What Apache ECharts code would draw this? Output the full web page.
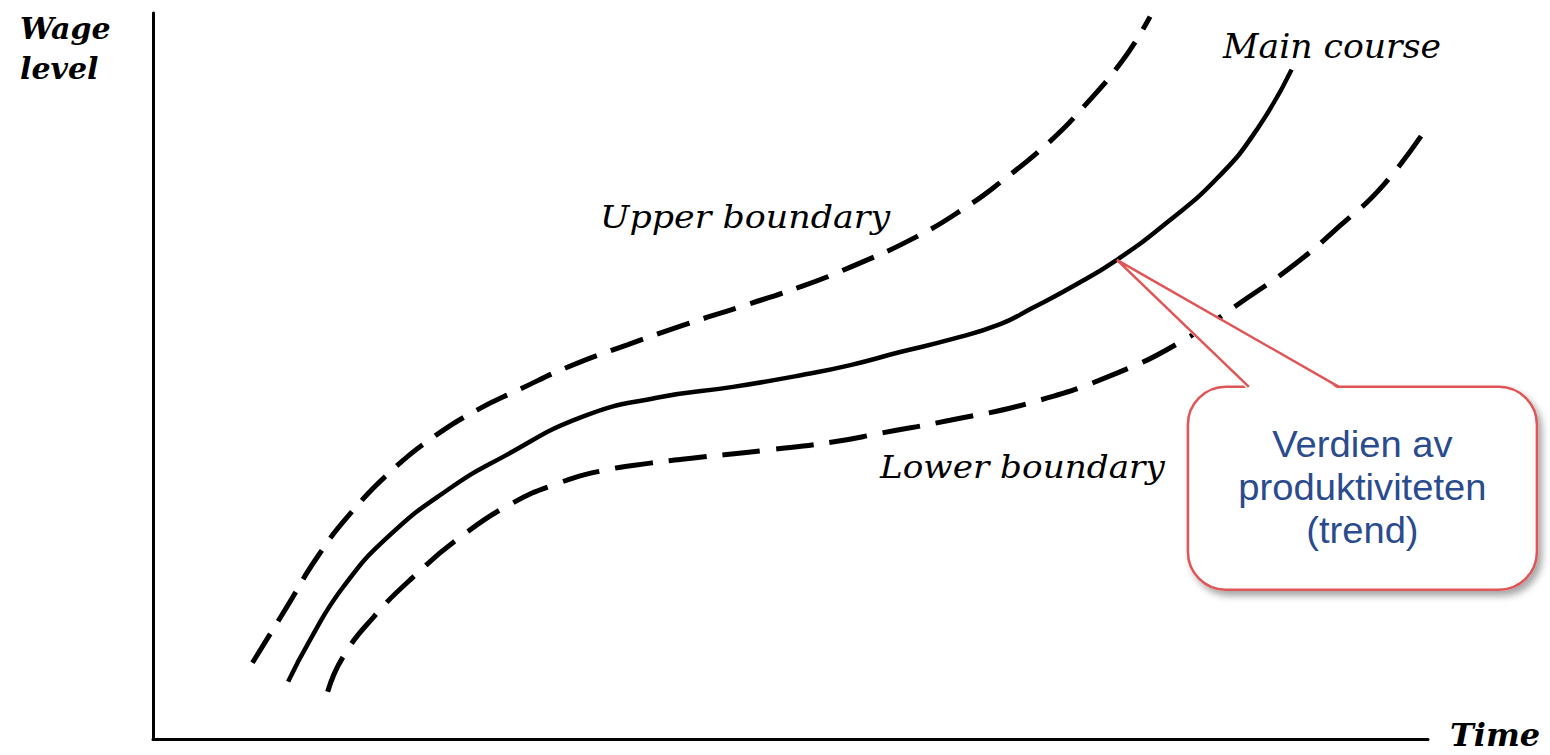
<!DOCTYPE html>
<html>
<head>
<meta charset="utf-8">
<title>Wage level</title>
<script src="https://cdn.jsdelivr.net/npm/echarts@6/dist/echarts.min.js"></script>
<style>
  html, body {margin: 0; padding: 0; background: #fff;}
  #chart {width: 1550px; height: 755px;}
</style>
</head>
<body>
<div id="chart"></div>
<script>
// main course (solid)
let mainTime = [10.6, 12.3, 14.9, 18.4, 23.1, 27.6, 33.7, 39.5, 45.5, 50.8, 54.7, 58.6, 62.5, 66.4, 69.0, 72.3, 75.6, 79.5, 83.5, 86.6, 89.3];
let mainWage = [7.9, 13.6, 20.9, 27.8, 34.3, 39.0, 44.4, 47.0, 48.5, 50.1, 51.5, 53.3, 55.0, 57.1, 59.4, 62.5, 66.0, 71.1, 77.3, 84.0, 92.2];
// upper boundary (dashed)
let upperTime = [7.8, 10.5, 12.9, 15.5, 18.8, 22.0, 25.4, 28.8, 32.5, 37.2, 41.6, 46.0, 50.8, 54.7, 59.9, 63.8, 66.4, 70.4, 72.9, 76.1, 78.2];
let upperWage = [10.5, 18.2, 25.1, 31.1, 37.1, 41.6, 45.3, 48.2, 51.2, 54.3, 57.0, 59.5, 62.3, 65.0, 69.2, 73.3, 76.6, 82.4, 86.9, 93.6, 99.5];
// lower boundary (dashed)
let lowerTime = [13.7, 14.9, 17.3, 20.4, 24.1, 28.2, 31.9, 35.1, 39.0, 42.9, 48.2, 53.3, 57.3, 62.5, 69.0, 75.6, 80.8, 85.7, 89.7, 93.1, 96.5, 99.9];
let lowerWage = [6.5, 11.3, 16.8, 22.3, 27.8, 32.5, 35.3, 36.9, 38.0, 38.8, 39.8, 40.9, 42.2, 43.9, 46.4, 50.4, 54.9, 60.6, 65.6, 70.7, 76.3, 84.2];
// point on main course where the callout points
let trendPoint = [75.6, 66.0];

let serif = '"DejaVu Serif", serif';
let red = '#e05656';

let zip = function (xs, ys) {
  return xs.map(function (x, i) {
    return [x, ys[i]];
  });
};

let line = function (name, xs, ys, type, width) {
  return {
    name: name, type: 'line', data: zip(xs, ys), symbol: 'none',
    smooth: 0.5, clip: false, silent: true,
    lineStyle: {color: '#000', width: width, type: type, cap: 'butt'}
  };
};

let axis = function () {
  return {
    type: 'value', min: 0, max: 100,
    axisLine: {show: true, onZero: false, lineStyle: {color: '#000', width: 3}},
    axisTick: {show: false}, axisLabel: {show: false}, splitLine: {show: false}
  };
};

let label = function (text, x, y, size, weight, sx) {
  return {
    type: 'text', x: x, y: y, z: 50, scaleX: sx || 1,
    style: {
      text: text, fill: '#000', fontFamily: serif, fontStyle: 'italic',
      fontWeight: weight || 'normal', fontSize: size, verticalAlign: 'middle'
    }
  };
};

let e1 = echarts.init(document.getElementById('chart'), null, {renderer: 'svg'});
e1.setOption({
  animation: false,
  backgroundColor: '#fff',
  grid: {left: 153, right: 122, top: 13, bottom: 16},
  xAxis: axis(),
  yAxis: axis(),
  series: [
    line('Main course', mainTime, mainWage, 'solid', 4.5),
    line('Upper boundary', upperTime, upperWage, [34, 15], 5),
    line('Lower boundary', lowerTime, lowerWage, [38, 16], 5)
  ]
});

// callout box, anchored to the trend point
let tip = e1.convertToPixel({seriesIndex: 0}, trendPoint);
let bx0 = tip[0] + 71, bx1 = tip[0] + 420;
let by0 = tip[1] + 127, by1 = tip[1] + 330;
let baseL = tip[0] + 132, baseR = tip[0] + 222;

e1.setOption({
  graphic: [
    label('Wage', 20, 28, 30, 'bold'),
    label('level', 20, 68, 30, 'bold'),
    label('Time', 1450, 735, 32, 'bold'),
    label('Upper boundary', 600, 217, 32, 'normal', 1.09),
    label('Lower boundary', 880, 467, 32, 'normal', 1.07),
    label('Main course', 1223, 47, 33, 'normal', 1.05),
    {
      type: 'rect', z: 100,
      shape: {x: bx0, y: by0, width: bx1 - bx0, height: by1 - by0, r: 38},
      style: {
        fill: '#fff', stroke: red, lineWidth: 2.5,
        shadowBlur: 7, shadowOffsetX: 4, shadowOffsetY: 5, shadowColor: 'rgba(0,0,0,0.35)'
      }
    },
    {
      type: 'polygon', z: 101,
      shape: {points: [[tip[0], tip[1]], [baseR + 1, by0 + 3], [baseL - 1, by0 + 3]]},
      style: {fill: '#fff'}
    },
    {
      type: 'polyline', z: 102,
      shape: {points: [[baseL, by0], [tip[0], tip[1]], [baseR, by0]]},
      style: {stroke: red, lineWidth: 2.5, fill: null, lineJoin: 'miter'}
    },
    {
      type: 'text', z: 103, scaleX: 1.06,
      x: (bx0 + bx1) / 2, y: (by0 + by1) / 2 - 1,
      style: {
        text: 'Verdien av\nproduktiviteten\n(trend)',
        fill: '#2a4b8d', fontFamily: '"Liberation Sans", Arial, sans-serif',
        fontSize: 36, lineHeight: 43, align: 'center', verticalAlign: 'middle'
      }
    }
  ]
});

window.onresize = function () {
  if (e1) {
    e1.resize();
  }
};
</script>
</body>
</html>
